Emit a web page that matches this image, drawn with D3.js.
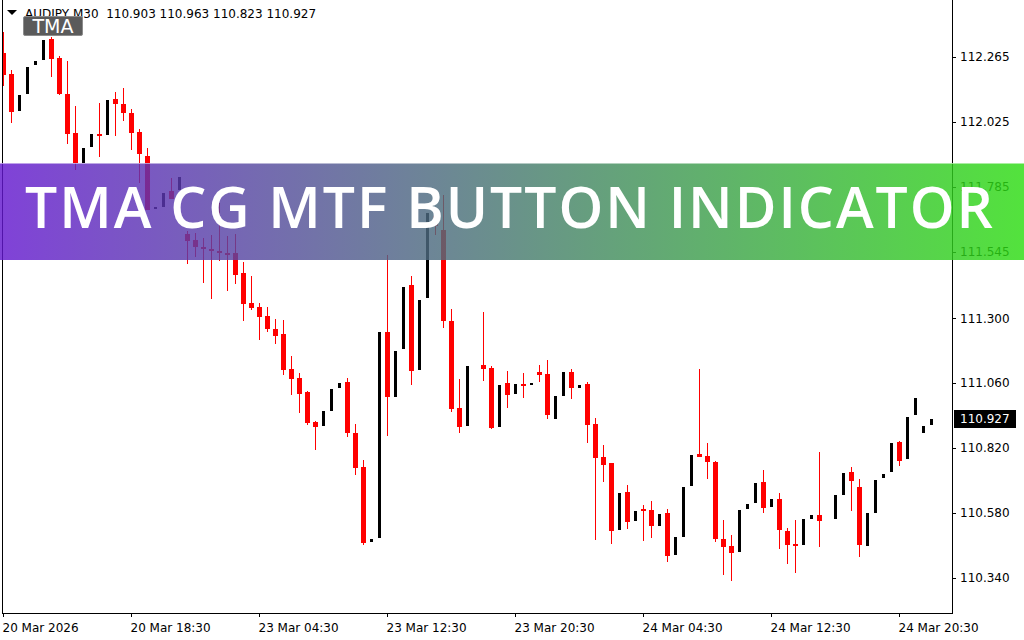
<!DOCTYPE html>
<meta charset="utf-8">
<script src="https://d3js.org/d3.v7.min.js"></script>
<style>
    body { margin: 0; background: #fff; }
</style>
<body>
<div id="chart"></div>
<script>
    // header / texts
    const chartTitle = "AUDJPY M30  110.903 110.963 110.823 110.927";
    const bannerText = "TMA CG MTF BUTTON INDICATOR";
    const buttonText = "TMA";
    const lastPrice = 110.927;

    // axis labels
    const priceTicks = [112.265, 112.025, 111.785, 111.545, 111.300, 111.060, 110.820, 110.580, 110.340];
    const timeTickBars = [0, 16, 32, 48, 64, 80, 96, 112];
    const timeLabels = ["20 Mar 2026", "20 Mar 18:30", "23 Mar 04:30", "23 Mar 12:30",
        "23 Mar 20:30", "24 Mar 04:30", "24 Mar 12:30", "24 Mar 20:30"];

    // OHLC, one entry per M30 bar (null = no bar drawn)
    const opens = [
        112.280, 112.202, 112.066, 112.128, 112.236, 112.254, 112.332, 112.261, 112.128, 111.984,
        111.874, 111.933, 111.981, 111.977, 112.110, 112.092, 112.058, 111.988, 111.900, 111.706,
        111.711, 111.770, 111.774, 111.612, 111.589, 111.564, 111.556, 111.549, 111.541, 111.541,
        111.468, 111.357, 111.342, 111.309, 111.261, 111.242, 111.113, 111.080, 111.028, 110.917,
        110.903, 110.958, 111.043, 111.065, 110.877, 110.751, 110.474, 110.489, 111.250, 111.010,
        111.187, 111.423, 111.109, 111.375, 111.678, 111.626, 111.290, 110.969, 110.903, null,
        111.128, 111.117, 110.899, 111.061, 111.021, 111.058, 111.054, 111.102, 111.095, 110.928,
        111.013, 111.102, 111.043, 111.058, 110.910, 110.788, 110.766, 110.519, 110.659, 110.552,
        110.596, 110.592, 110.533, 110.581, 110.426, 110.493, 110.681, 110.799, 110.792, 110.770,
        110.485, 110.460, 110.437, 110.596, 110.618, 110.696, 110.604, 110.633, 110.515, 110.467,
        110.463, 110.559, 110.574, null, 110.559, 110.648, 110.733, 110.677, 110.460, 110.581,
        110.711, 110.733, 110.844, 110.781, 110.943, 110.877, 110.906
    ];
    const highs = [
        112.357, 112.217, 112.125, 112.228, 112.250, 112.328, 112.339, 112.269, 112.250, 112.084,
        111.929, 111.981, 112.095, 112.106, 112.136, 112.151, 112.073, 111.999, 111.929, 111.710,
        111.763, 111.818, 111.822, 111.623, 111.615, 111.597, 111.608, 111.726, 111.604, 111.612,
        111.508, 111.456, 111.357, 111.342, 111.298, 111.294, 111.161, 111.098, 111.032, 110.921,
        110.958, 111.039, 111.061, 111.080, 110.910, 110.777, 110.485, 111.250, 111.534, 111.180,
        111.416, 111.456, 111.368, 111.689, 111.693, 111.756, 111.335, 111.076, 111.124, null,
        111.324, 111.124, 111.054, 111.106, 111.058, 111.098, 111.061, 111.128, 111.146, 111.013,
        111.102, 111.113, 111.054, 111.065, 110.932, 110.832, 110.766, 110.655, 110.685, 110.589,
        110.611, 110.626, 110.578, 110.596, 110.493, 110.677, 110.796, 111.113, 110.840, 110.773,
        110.556, 110.500, 110.592, 110.615, 110.692, 110.740, 110.633, 110.655, 110.526, 110.556,
        110.559, 110.574, 110.807, null, 110.648, 110.729, 110.751, 110.707, 110.581, 110.703,
        110.725, 110.840, 110.847, 110.936, 111.006, 110.903, 110.927
    ];
    const lows = [
        112.158, 112.021, 112.066, 112.128, 112.236, 112.254, 112.191, 112.125, 111.944, 111.848,
        111.874, 111.933, 111.896, 111.977, 111.973, 112.029, 111.922, 111.800, 111.700, 111.706,
        111.711, 111.741, 111.774, 111.501, 111.527, 111.431, 111.372, 111.512, 111.401, 111.427,
        111.290, 111.331, 111.220, 111.250, 111.205, 111.091, 111.017, 110.951, 110.906, 110.814,
        110.903, 110.958, 111.043, 110.862, 110.722, 110.463, 110.474, 110.489, 110.866, 111.010,
        111.187, 111.054, 111.109, 111.375, 111.608, 111.264, 110.954, 110.877, 110.903, null,
        111.069, 110.892, 110.899, 110.969, 111.021, 111.006, 111.054, 111.065, 110.928, 110.928,
        111.013, 111.002, 111.043, 110.840, 110.482, 110.696, 110.467, 110.519, 110.522, 110.552,
        110.478, 110.489, 110.533, 110.400, 110.426, 110.493, 110.681, 110.788, 110.707, 110.474,
        110.352, 110.330, 110.437, 110.596, 110.618, 110.581, 110.604, 110.448, 110.393, 110.360,
        110.463, 110.559, 110.456, null, 110.559, 110.648, 110.589, 110.419, 110.460, 110.581,
        110.711, 110.733, 110.755, 110.781, 110.943, 110.877, 110.906
    ];
    const closes = [
        112.199, 112.062, 112.125, 112.228, 112.250, 112.328, 112.258, 112.128, 111.981, 111.874,
        111.929, 111.981, 111.973, 112.106, 112.092, 112.058, 111.984, 111.907, 111.700, 111.710,
        111.763, 111.741, 111.822, 111.586, 111.564, 111.556, 111.549, 111.541, 111.538, 111.460,
        111.353, 111.338, 111.305, 111.261, 111.235, 111.109, 111.076, 111.021, 110.914, 110.899,
        110.958, 111.039, 111.061, 110.877, 110.748, 110.471, 110.485, 111.250, 111.010, 111.180,
        111.416, 111.106, 111.368, 111.689, 111.641, 111.290, 110.965, 110.899, 111.124, null,
        111.113, 110.895, 111.054, 111.017, 111.058, 111.054, 111.061, 111.091, 110.943, 111.013,
        111.102, 111.043, 111.054, 110.906, 110.784, 110.759, 110.515, 110.655, 110.548, 110.589,
        110.589, 110.533, 110.578, 110.423, 110.493, 110.677, 110.796, 110.788, 110.770, 110.485,
        110.456, 110.434, 110.592, 110.615, 110.692, 110.600, 110.633, 110.519, 110.463, 110.463,
        110.559, 110.574, 110.552, null, 110.648, 110.729, 110.700, 110.463, 110.581, 110.703,
        110.725, 110.840, 110.773, 110.936, 111.006, 110.903, 110.927
    ];

    const width = 1024, height = 640;
    const plot = {left: 2, right: 952, top: 0, bottom: 613};
    const labelFont = "'DejaVu Sans', sans-serif";

    let bars = opens.map(function (o, i) {
        return {i: i, o: o, h: highs[i], l: lows[i], c: closes[i]};
    }).filter(function (d) { return d.o !== null; });

    var svg = d3.select("#chart")
        .append("svg")
        .attr("width", width)
        .attr("height", height)
        .style("display", "block")
        .style("font-family", labelFont);

    var x = d3.scaleLinear()
        .domain([0, opens.length - 1])
        .range([3, 931]);

    var y = d3.scaleLinear()
        .domain([110.340, 112.265])
        .range([578, 57]);

    // clip for candles
    svg.append("defs").append("clipPath")
        .attr("id", "plotclip")
        .append("rect")
        .attr("x", plot.left + 1).attr("y", plot.top)
        .attr("width", plot.right - plot.left - 1)
        .attr("height", plot.bottom - plot.top);

    // right price axis
    var yAxis = svg.append("g")
        .attr("transform", "translate(" + plot.right + ",0)")
        .call(d3.axisRight(y).tickValues(priceTicks).tickFormat(d3.format(".3f"))
            .tickSize(4).tickPadding(4));
    yAxis.attr("font-family", labelFont);
    yAxis.select(".domain").remove();
    yAxis.selectAll("text").style("font-size", "12px").attr("fill", "#000");
    yAxis.selectAll("line").attr("stroke", "#000").attr("shape-rendering", "crispEdges");

    // bottom time axis
    var xAxis = svg.append("g")
        .attr("transform", "translate(0," + plot.bottom + ")")
        .call(d3.axisBottom(x).tickValues(timeTickBars)
            .tickFormat(function (d, i) { return timeLabels[i]; })
            .tickSize(4).tickPadding(6));
    xAxis.attr("font-family", labelFont);
    xAxis.select(".domain").remove();
    xAxis.selectAll("text").style("font-size", "12px").attr("fill", "#000")
        .attr("text-anchor", "start").attr("dx", "-1");
    xAxis.selectAll("line").attr("stroke", "#000").attr("shape-rendering", "crispEdges");

    // frame
    var frame = svg.append("g").attr("stroke", "#000").attr("shape-rendering", "crispEdges");
    frame.append("line").attr("x1", plot.left + 0.5).attr("x2", plot.left + 0.5)
        .attr("y1", plot.top).attr("y2", plot.bottom);
    frame.append("line").attr("x1", plot.right + 0.5).attr("x2", plot.right + 0.5)
        .attr("y1", plot.top).attr("y2", plot.bottom);
    frame.append("line").attr("x1", plot.left).attr("x2", plot.right + 1)
        .attr("y1", plot.bottom + 0.5).attr("y2", plot.bottom + 0.5);

    // candles
    var candles = svg.append("g")
        .attr("clip-path", "url(#plotclip)")
        .attr("shape-rendering", "crispEdges");

    var isBear = function (d) { return d.c < d.o; };

    candles.selectAll(".wick")
        .data(bars.filter(isBear))
        .enter()
        .append("rect")
        .attr("class", "wick")
        .attr("x", function (d) { return Math.round(x(d.i)); })
        .attr("y", function (d) { return Math.round(y(d.h)); })
        .attr("width", 1)
        .attr("height", function (d) { return Math.max(1, Math.round(y(d.l)) - Math.round(y(d.h))); })
        .attr("fill", "#ff0000");

    candles.selectAll(".body")
        .data(bars)
        .enter()
        .append("rect")
        .attr("class", "body")
        .attr("x", function (d) { return Math.round(x(d.i)) - (isBear(d) ? 2 : 1); })
        .attr("y", function (d) { return Math.round(y(Math.max(d.o, d.c))); })
        .attr("width", function (d) { return isBear(d) ? 5 : 3; })
        .attr("height", function (d) {
            return Math.max(2, Math.round(y(Math.min(d.o, d.c))) - Math.round(y(Math.max(d.o, d.c))));
        })
        .attr("fill", function (d) { return isBear(d) ? "#ff0000" : "#000000"; });

    // current price label
    svg.append("rect")
        .attr("x", 954).attr("y", Math.round(y(lastPrice)) - 9)
        .attr("width", 62).attr("height", 18)
        .attr("fill", "#000");
    svg.append("text")
        .attr("x", 960).attr("y", y(lastPrice))
        .attr("dy", "0.35em")
        .style("font-size", "12px")
        .attr("fill", "#fff")
        .text(d3.format(".3f")(lastPrice));

    // header line
    svg.append("path")
        .attr("d", "M7,10 L17,10 L12,15 Z")
        .attr("fill", "#000");
    svg.append("text")
        .attr("x", 25).attr("y", 18)
        .style("font-size", "12px")
        .style("white-space", "pre")
        .attr("xml:space", "preserve")
        .attr("fill", "#000")
        .text(chartTitle);

    // TMA button
    svg.append("rect")
        .attr("x", 23.5).attr("y", 16.5)
        .attr("width", 59).attr("height", 19)
        .attr("rx", 1.5)
        .attr("fill", "#5b5b5b")
        .attr("stroke", "#8c8c8c");
    svg.append("text")
        .attr("x", 53).attr("y", 33)
        .attr("text-anchor", "middle")
        .style("font-size", "19px")
        .attr("fill", "#fff")
        .text(buttonText);

    // banner
    var grad = svg.select("defs").append("linearGradient")
        .attr("id", "bannergrad")
        .attr("x1", "0%").attr("x2", "100%").attr("y1", "0%").attr("y2", "0%");
    grad.append("stop").attr("offset", "0%").attr("stop-color", "#6418cf");
    grad.append("stop").attr("offset", "100%").attr("stop-color", "#2ddc12");

    svg.append("rect")
        .attr("x", 0).attr("y", 163)
        .attr("width", width).attr("height", 97)
        .attr("fill", "url(#bannergrad)")
        .attr("opacity", 0.82);
    svg.append("rect")
        .attr("x", 0).attr("y", 163)
        .attr("width", width).attr("height", 1)
        .attr("fill", "#fff")
        .attr("opacity", 0.5);

    svg.append("text")
        .attr("x", 25).attr("y", 228)
        .attr("textLength", 968)
        .attr("lengthAdjust", "spacing")
        .style("font-family", "'Open Sans', sans-serif")
        .style("font-weight", 600)
        .style("font-size", "57px")
        .attr("fill", "#fff")
        .text(bannerText);
</script>
</body>
